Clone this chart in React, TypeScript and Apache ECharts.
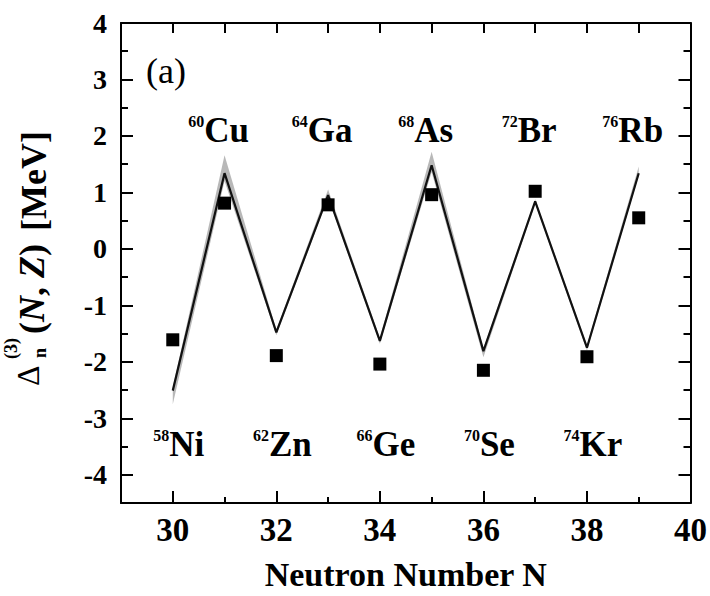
import React, { useEffect, useRef } from 'react';
import * as echarts from 'echarts';

// Neutron number N of each nucleus
const neutronNumbers = [30, 31, 32, 33, 34, 35, 36, 37, 38, 39];
// Experimental three-point odd-even mass differences (MeV)
const experiment = [-1.61, 0.81, -1.89, 0.78, -2.04, 0.96, -2.15, 1.02, -1.91, 0.55];
// Model prediction (MeV) and its uncertainty band
const theory = [-2.51, 1.34, -1.48, 0.95, -1.63, 1.48, -1.81, 0.84, -1.75, 1.34];
const bandLower = [-2.75, 1.2, -1.53, 0.9, -1.68, 1.36, -1.92, 0.8, -1.8, 1.3];
const bandUpper = [-2.45, 1.66, -1.43, 1.05, -1.58, 1.72, -1.76, 0.88, -1.7, 1.46];

// Nuclide annotations: neutron number, mass number, element, row
const nuclides = [
  { n: 30, mass: '58', symbol: 'Ni', row: 'bottom' },
  { n: 31, mass: '60', symbol: 'Cu', row: 'top' },
  { n: 32, mass: '62', symbol: 'Zn', row: 'bottom' },
  { n: 33, mass: '64', symbol: 'Ga', row: 'top' },
  { n: 34, mass: '66', symbol: 'Ge', row: 'bottom' },
  { n: 35, mass: '68', symbol: 'As', row: 'top' },
  { n: 36, mass: '70', symbol: 'Se', row: 'bottom' },
  { n: 37, mass: '72', symbol: 'Br', row: 'top' },
  { n: 38, mass: '74', symbol: 'Kr', row: 'bottom' },
  { n: 39, mass: '76', symbol: 'Rb', row: 'top' },
];

const xTickLabels = [30, 32, 34, 36, 38, 40];
const yTickLabels = [-4, -3, -2, -1, 0, 1, 2, 3, 4];

const SERIF = '"Liberation Serif", "Times New Roman", serif';
const BLACK = '#000';

const X_MIN = 29;
const X_MAX = 40;
const Y_MIN = -4.5;
const Y_MAX = 4;

function xAxisBase(extra: any) {
  return {
    type: 'value',
    min: X_MIN,
    max: X_MAX,
    interval: 1,
    splitLine: { show: false },
    axisLine: { show: false, onZero: false, lineStyle: { color: BLACK, width: 2 } },
    axisLabel: { show: false },
    axisTick: { show: false },
    ...extra,
  };
}

function yAxisBase(extra: any) {
  return {
    type: 'value',
    min: Y_MIN,
    max: Y_MAX,
    interval: 0.5,
    splitLine: { show: false },
    axisLine: { show: false, onZero: false, lineStyle: { color: BLACK, width: 2 } },
    axisLabel: { show: false },
    axisTick: { show: false },
    ...extra,
  };
}

const tickStyle = { color: BLACK, width: 2 };

function buildOption() {
  const pairs = (ys: number[]) => neutronNumbers.map((n, i) => [n, ys[i]]);

  const topRowY = 2.1;
  const bottomRowY = -3.47;

  const labelData = nuclides.map((d) => ({
    value: [d.n, d.row === 'top' ? topRowY : bottomRowY],
    label: {
      formatter: `{m|${d.mass}}{s|${d.symbol}}`,
      offset: [d.row === 'top' ? -6 : 6, 0],
    },
  }));

  return {
    animation: false,
    backgroundColor: '#fff',
    grid: { left: 121, right: 19, top: 23, bottom: 90, containLabel: false },
    xAxis: [
      xAxisBase({
        position: 'bottom',
        axisLine: { show: true, onZero: false, lineStyle: { color: BLACK, width: 2 } },
        axisTick: { show: true, inside: true, length: 6, lineStyle: tickStyle },
        axisLabel: {
          show: true,
          customValues: xTickLabels,
          margin: 10,
          color: BLACK,
          fontFamily: SERIF,
          fontWeight: 'bold',
          fontSize: 33,
        },
        name: 'Neutron Number N',
        nameLocation: 'middle',
        nameGap: 54,
        nameTextStyle: { color: BLACK, fontFamily: SERIF, fontWeight: 'bold', fontSize: 34 },
      }),
      xAxisBase({
        position: 'bottom',
        axisTick: { show: true, inside: true, length: 12, customValues: xTickLabels, lineStyle: tickStyle },
      }),
      xAxisBase({
        position: 'top',
        axisLine: { show: true, onZero: false, lineStyle: { color: BLACK, width: 2 } },
        axisTick: { show: true, inside: true, length: 10, lineStyle: tickStyle },
      }),
    ],
    yAxis: [
      yAxisBase({
        position: 'left',
        axisLine: { show: true, onZero: false, lineStyle: { color: BLACK, width: 2 } },
        axisTick: { show: true, inside: true, length: 7, lineStyle: tickStyle },
        axisLabel: {
          show: true,
          customValues: yTickLabels,
          margin: 14,
          color: BLACK,
          fontFamily: SERIF,
          fontWeight: 'bold',
          fontSize: 28,
        },
      }),
      yAxisBase({
        position: 'left',
        axisTick: { show: true, inside: true, length: 12, customValues: yTickLabels, lineStyle: tickStyle },
      }),
      yAxisBase({
        position: 'right',
        axisLine: { show: true, onZero: false, lineStyle: { color: BLACK, width: 2 } },
        axisTick: { show: true, inside: true, length: 7, lineStyle: tickStyle },
      }),
      yAxisBase({
        position: 'right',
        axisTick: { show: true, inside: true, length: 12, customValues: yTickLabels, lineStyle: tickStyle },
      }),
    ],
    series: [
      {
        // uncertainty band of the model, drawn as one polygon
        name: 'band',
        type: 'custom',
        coordinateSystem: 'cartesian2d',
        data: [[neutronNumbers[0], theory[0]]],
        silent: true,
        clip: false,
        z: 1,
        renderItem: (_params: any, api: any) => {
          const upper = neutronNumbers.map((n, i) => api.coord([n, bandUpper[i]]));
          const lower = neutronNumbers.map((n, i) => api.coord([n, bandLower[i]])).reverse();
          return {
            type: 'polygon',
            shape: { points: upper.concat(lower) },
            style: { fill: '#9a9a9a', opacity: 0.7 },
          };
        },
      },
      {
        name: 'theory',
        type: 'line',
        data: pairs(theory),
        symbol: 'none',
        lineStyle: { color: '#111', width: 2.2 },
        z: 3,
      },
      {
        name: 'experiment',
        type: 'scatter',
        data: pairs(experiment),
        symbol: 'rect',
        symbolSize: 13,
        itemStyle: { color: BLACK, opacity: 1 },
        z: 4,
      },
      {
        name: 'nuclides',
        type: 'scatter',
        data: labelData,
        symbolSize: 0,
        silent: true,
        itemStyle: { opacity: 1 },
        z: 5,
        label: {
          show: true,
          position: 'inside',
          color: BLACK,
          opacity: 1,
          fontFamily: SERIF,
          fontWeight: 'bold',
          rich: {
            m: {
              fontFamily: SERIF,
              fontWeight: 'bold',
              fontSize: 16,
              lineHeight: 12,
              verticalAlign: 'top',
              color: BLACK,
            },
            s: {
              fontFamily: SERIF,
              fontWeight: 'bold',
              fontSize: 35,
              lineHeight: 34,
              color: BLACK,
            },
          },
        },
      },
    ],
    graphic: [
      {
        type: 'text',
        x: 166,
        y: 71,
        style: { text: '(a)', fontFamily: SERIF, fontSize: 36, fill: BLACK, align: 'center', verticalAlign: 'middle' },
      },
      {
        type: 'text',
        x: 28,
        y: 386,
        rotation: Math.PI / 2,
        style: { text: 'Δ', fontFamily: SERIF, fontSize: 32, fill: BLACK, align: 'left', verticalAlign: 'middle' },
      },
      {
        type: 'text',
        x: 11,
        y: 359,
        rotation: Math.PI / 2,
        style: { text: '(3)', fontFamily: SERIF, fontWeight: 'bold', fontSize: 18, fill: BLACK, align: 'left', verticalAlign: 'middle' },
      },
      {
        type: 'text',
        x: 40,
        y: 358,
        rotation: Math.PI / 2,
        style: { text: 'n', fontFamily: SERIF, fontWeight: 'bold', fontSize: 18, fill: BLACK, align: 'left', verticalAlign: 'middle' },
      },
      {
        type: 'text',
        x: 32,
        y: 334,
        rotation: Math.PI / 2,
        style: {
          text: '{p|(}{i|N}{p|, }{i|Z}{p|)}',
          fill: BLACK,
          align: 'left',
          verticalAlign: 'middle',
          rich: {
            p: { fontFamily: SERIF, fontWeight: 'bold', fontSize: 36, fill: BLACK },
            i: { fontFamily: SERIF, fontWeight: 'bold', fontStyle: 'italic', fontSize: 36, fill: BLACK },
          },
        },
      },
      {
        type: 'text',
        x: 34,
        y: 231,
        rotation: Math.PI / 2,
        style: { text: '[MeV]', fontFamily: SERIF, fontWeight: 'bold', fontSize: 36, fill: BLACK, align: 'left', verticalAlign: 'middle' },
      },
    ],
  };
}

export default function App() {
  const ref = useRef<HTMLDivElement>(null);

  useEffect(() => {
    document.body.style.margin = '0';
    if (!ref.current) return;
    const chart = echarts.init(ref.current, null, { renderer: 'svg' });
    chart.setOption(buildOption() as any);
    return () => chart.dispose();
  }, []);

  return <div ref={ref} style={{ width: 710, height: 596, background: '#fff' }} />;
}
